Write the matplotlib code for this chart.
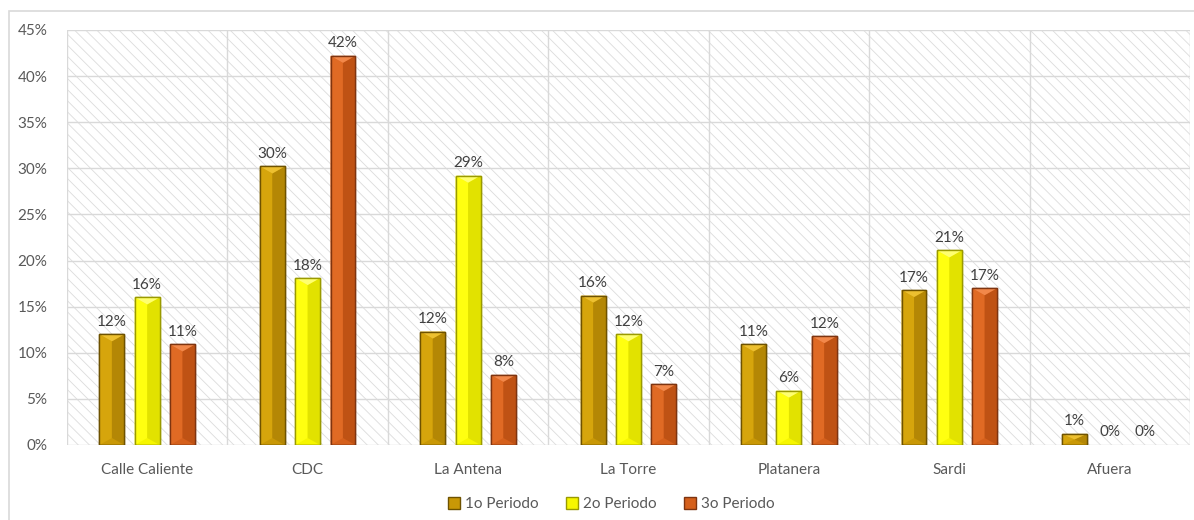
import matplotlib
matplotlib.use("Agg")
import matplotlib.pyplot as plt
from matplotlib.patches import Polygon, Rectangle
import numpy as np

categories = ["Calle Caliente", "CDC", "La Antena", "La Torre", "Platanera", "Sardi", "Afuera"]
series_names = ["1o Periodo", "2o Periodo", "3o Periodo"]
periodo1 = [12.0, 30.2, 12.3, 16.2, 10.9, 16.8, 1.2]
periodo2 = [16.0, 18.1, 29.2, 12.0, 5.9, 21.1, 0.0]
periodo3 = [10.9, 42.2, 7.6, 6.6, 11.8, 17.0, 0.0]
yticks = [0, 5, 10, 15, 20, 25, 30, 35, 40, 45]

# base, left face, right face, top cap, edge
palettes = [
    ("#C99806", "#D6A50C", "#B48705", "#EDC030", "#6E5200"),
    ("#F6F600", "#FFFF10", "#E2E200", "#FFFF70", "#9A9A00"),
    ("#D5601C", "#E06A24", "#BF5214", "#F2884A", "#7E3410"),
]

plt.rcParams["font.family"] = ["Lato", "DejaVu Sans"]
plt.rcParams["hatch.linewidth"] = 0.6
fig = plt.figure(figsize=(11.94, 5.2), dpi=100)
fig.patch.set_facecolor("white")

# outer chart frame
fig.add_artist(Rectangle((9 / 1194, -0.01), 1.1, 1 - 11 / 520 + 0.01, transform=fig.transFigure,
                         facecolor="none", edgecolor="#D9D9D9", linewidth=1.2))

ax = fig.add_axes([67 / 1194, 1 - 445 / 520, (1190 - 67) / 1194, (445 - 30) / 520])
ax.set_xlim(-0.5, len(categories) - 0.5)
ax.set_ylim(0, 45)

# hatched plot area background
ax.add_patch(Rectangle((0, 0), 1, 1, transform=ax.transAxes, facecolor="white",
                       edgecolor="#DCDCDC", hatch="\\\\\\", linewidth=0, zorder=0))

for y in yticks:
    ax.axhline(y, color="#D9D9D9", linewidth=1.0, zorder=1)
for i in range(len(categories) + 1):
    ax.axvline(i - 0.5, color="#D9D9D9", linewidth=1.0, zorder=1)

for s in ax.spines.values():
    s.set_visible(False)

ax.set_yticks(yticks)
ax.set_yticklabels([f"{v}%" for v in yticks], fontsize=11, color="#595959")
ax.set_xticks(range(len(categories)))
ax.set_xticklabels(categories, fontsize=11, color="#595959")
ax.tick_params(axis="both", length=0)
ax.tick_params(axis="y", pad=14)
ax.tick_params(axis="x", pad=13)

x = np.arange(len(categories))
bar_w = 0.155
step = 0.22
fig.canvas.draw()
px_per_unit = (ax.transData.transform((0, 1))[1] - ax.transData.transform((0, 0))[1])
bevel_px = 7.0

all_series = [periodo1, periodo2, periodo3]
handles = []
for k, (vals, pal) in enumerate(zip(all_series, palettes)):
    base, left, right, top, edge = pal
    pos = x + (k - 1) * step
    widths = [1.0 if v > 0 else 0.0 for v in vals]
    bars = ax.bar(pos, vals, width=bar_w, color=base, edgecolor=edge, linewidth=widths,
                  zorder=3, label=series_names[k])
    handles.append(bars)
    for rect, v in zip(bars, vals):
        if v <= 0:
            continue
        x0 = rect.get_x()
        x1 = x0 + rect.get_width()
        xm = (x0 + x1) / 2
        h = rect.get_height()
        d = min(bevel_px / px_per_unit, h / 2)
        ax.add_patch(Polygon([(x0, 0), (xm, d), (xm, h - d), (x0, h)], closed=True,
                             facecolor=left, edgecolor="none", zorder=3.1))
        ax.add_patch(Polygon([(xm, d), (x1, 0), (x1, h), (xm, h - d)], closed=True,
                             facecolor=right, edgecolor="none", zorder=3.1))
        ax.add_patch(Polygon([(x0, h), (x1, h), (xm, h - d)], closed=True,
                             facecolor=top, edgecolor="none", zorder=3.2))
        ax.add_patch(Rectangle((x0, 0), x1 - x0, h, facecolor="none", edgecolor=edge,
                               linewidth=1.0, zorder=3.3))
    for p, v in zip(pos, vals):
        ax.annotate(f"{round(v):.0f}%", (p, v), xytext=(0, 4), textcoords="offset points",
                    ha="center", va="bottom", fontsize=11, color="#404040", zorder=4)

leg = fig.legend(handles=handles, labels=series_names, loc="center",
                 bbox_to_anchor=(611 / 1194, 1 - 504 / 520), ncol=3, frameon=False,
                 fontsize=11, handlelength=0.8, handleheight=0.9, handletextpad=0.3,
                 columnspacing=1.8)
for t in leg.get_texts():
    t.set_color("#595959")

fig.savefig("out.png", dpi=100, facecolor="white")
